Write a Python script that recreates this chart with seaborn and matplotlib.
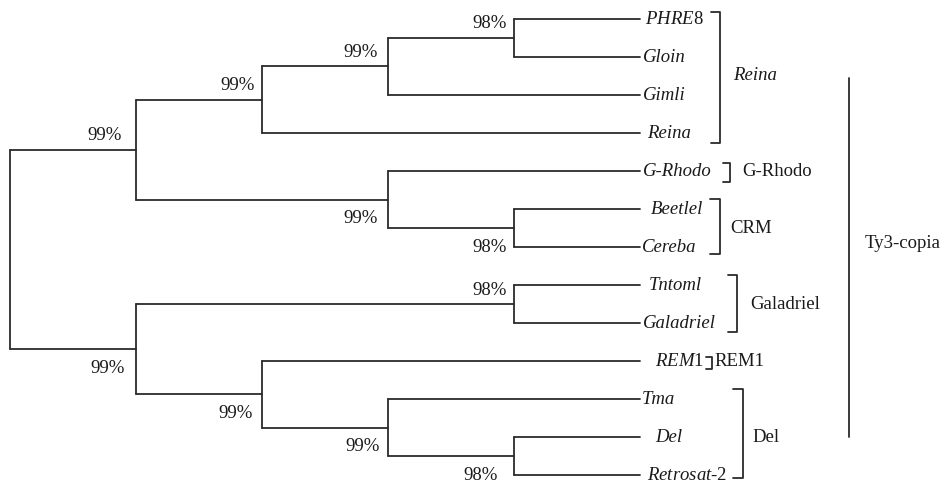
import pandas as pd
import numpy as np
import matplotlib
matplotlib.use("Agg")
import matplotlib.pyplot as plt
import seaborn as sns

# leaf names: italic part + upright suffix
leaf_italic = ['PHRE', 'Gloin', 'Gimli', 'Reina', 'G-Rhodo', 'Beetlel', 'Cereba',
               'Tntoml', 'Galadriel', 'REM', 'Tma', 'Del', 'Retrosat']
leaf_suffix = ['8', '', '', '', '', '', '', '', '', '1', '', '', '-2']

# internal nodes: children (int = leaf index, str = node name), depth level, support
node_names = ['a', 'b', 'c', 'd', 'e', 'f', 'g', 'h', 'i', 'j', 'k', 'root']
node_left = [0, 'a', 'b', 5, 4, 'c', 7, 11, 10, 9, 'g', 'f']
node_right = [1, 2, 3, 6, 'd', 'e', 8, 12, 'h', 'i', 'j', 'k']
node_level = [4, 3, 2, 4, 3, 1, 4, 4, 3, 2, 1, 0]
node_support = ['98%', '99%', '99%', '98%', '99%', '99%', '98%', '98%', '99%', '99%', '99%', '']
support_side = ['above', 'above', 'above', 'below', 'below', 'above',
                'above', 'below', 'below', 'below', 'below', '']
leaf_level = 5

# families shown with brackets on the right
group_labels = ['Reina', 'G-Rhodo', 'CRM', 'Galadriel', 'REM1', 'Del']
group_first = [0, 4, 5, 7, 9, 10]
group_last = [3, 4, 6, 8, 9, 12]
group_italic = [True, False, False, False, False, False]
superfamily = 'Ty3-copia'

# layout (pixels)
X0, DX = 10, 126
Y0, DY = 19, 38
leaf_gap = [5, 3, 3, 7, 3, 11, 2, 9, 3, 15, 2, 15, 7]
support_dx = [-7, -10, -7, -7, -10, -14, -7, -16, -8, -9, -11, 0]
bracket_x = [720, 730, 720, 737, 712, 743]
bracket_pad_top = [7, 8, 10, 10, 4, 10]
bracket_pad_bot = [10, 11, 7, 9, 8, 3]
bracket_tick = [9, 7, 10, 9, 6, 10]
label_x = [733, 742, 730, 750, 714, 752]

sns.set_style("white")
plt.rcParams['font.family'] = ['Liberation Serif', 'DejaVu Serif']
plt.rcParams['mathtext.fontset'] = 'custom'
plt.rcParams['mathtext.rm'] = 'Liberation Serif'
plt.rcParams['mathtext.it'] = 'Liberation Serif:italic'

LINE = '#2b2b2b'
TXT = '#1a1a1a'
FS = 13.5

pos = {}
for i in range(len(leaf_italic)):
    pos[i] = (X0 + DX * leaf_level, Y0 + DY * i)


def get_pos(key):
    if key in pos:
        return pos[key]
    k = node_names.index(key)
    yl = get_pos(node_left[k])[1]
    yr = get_pos(node_right[k])[1]
    pos[key] = (X0 + DX * node_level[k], (yl + yr) / 2)
    return pos[key]


rows = []
seg = 0
for k, name in enumerate(node_names):
    x, y = get_pos(name)
    cl, cr = get_pos(node_left[k]), get_pos(node_right[k])
    # vertical
    rows += [(seg, x, cl[1]), (seg, x, cr[1])]
    seg += 1
    for c in (cl, cr):
        rows += [(seg, x, c[1]), (seg, c[0], c[1])]
        seg += 1

# brackets
for g in range(len(group_labels)):
    yt = Y0 + DY * group_first[g] - bracket_pad_top[g]
    yb = Y0 + DY * group_last[g] + bracket_pad_bot[g]
    bx = bracket_x[g]
    rows += [(seg, bx - bracket_tick[g], yt), (seg, bx, yt), (seg, bx, yb),
             (seg, bx - bracket_tick[g], yb)]
    seg += 1

# superfamily bar
rows += [(seg, 849, 78), (seg, 849, 437)]
seg += 1

seg_df = pd.DataFrame(rows, columns=['seg', 'x', 'y'])

fig = plt.figure(figsize=(9.48, 4.86), dpi=100)
ax = fig.add_axes([0, 0, 1, 1])
sns.lineplot(data=seg_df, x='x', y='y', units='seg', estimator=None, sort=False,
             color=LINE, linewidth=1.3, ax=ax)
ax.set_xlim(0, 948)
ax.set_ylim(486, 0)
ax.axis('off')

# leaf labels
for i in range(len(leaf_italic)):
    x, y = pos[i]
    if leaf_suffix[i]:
        lab = r'$\mathit{' + leaf_italic[i] + '}$' + leaf_suffix[i]
        ax.text(x + leaf_gap[i], y, lab, fontsize=FS, va='center', ha='left', color=TXT)
    else:
        ax.text(x + leaf_gap[i], y, leaf_italic[i], fontsize=FS, va='center', ha='left',
                style='italic', color=TXT)

# bootstrap values
for k, name in enumerate(node_names):
    if not node_support[k]:
        continue
    x, y = pos[name]
    dy = -14 if support_side[k] == 'above' else 19
    ax.text(x + support_dx[k], y + dy, node_support[k], fontsize=FS, va='center',
            ha='right', color=TXT)

# group labels
for g in range(len(group_labels)):
    ly = Y0 + DY * (group_first[g] + group_last[g]) / 2
    ax.text(label_x[g], ly, group_labels[g], fontsize=FS, va='center', ha='left',
            style='italic' if group_italic[g] else 'normal', color=TXT)

ax.text(865, 243, superfamily, fontsize=FS, va='center', ha='left', color=TXT)

fig.savefig('out.png', dpi=100)
